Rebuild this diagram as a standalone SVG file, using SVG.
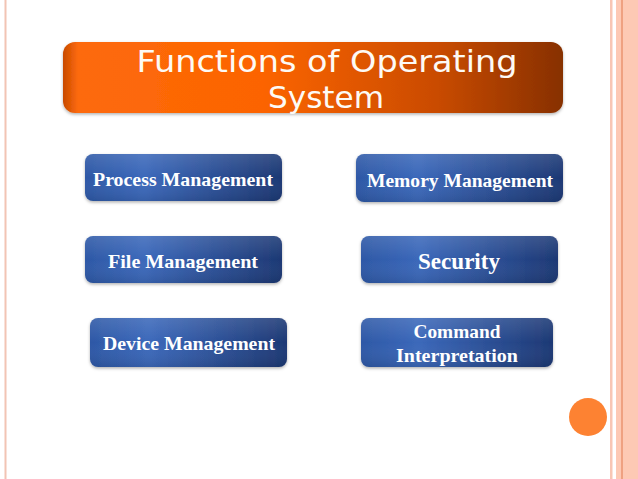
<svg xmlns="http://www.w3.org/2000/svg" width="638" height="479" viewBox="0 0 638 479">
<defs>
<linearGradient id="og" x1="0" y1="0" x2="1" y2="0">
<stop offset="0" stop-color="#c84a00"/>
<stop offset="0.03" stop-color="#fd6a0c"/>
<stop offset="0.4" stop-color="#fc6400"/>
<stop offset="0.75" stop-color="#c94b00"/>
<stop offset="1" stop-color="#873000"/>
</linearGradient>
<linearGradient id="bg" x1="0" y1="0" x2="1" y2="0">
<stop offset="0" stop-color="#2d58a6"/>
<stop offset="0.3" stop-color="#3b68ba"/>
<stop offset="1" stop-color="#1d3874"/>
</linearGradient>
<linearGradient id="hl" x1="0" y1="0" x2="0" y2="1">
<stop offset="0" stop-color="#ffffff" stop-opacity="0.12"/>
<stop offset="0.5" stop-color="#ffffff" stop-opacity="0"/>
<stop offset="1" stop-color="#000000" stop-opacity="0.1"/>
</linearGradient>
<filter id="sh" x="-10%" y="-20%" width="120%" height="150%">
<feDropShadow dx="0" dy="1.5" stdDeviation="1.5" flood-color="#000" flood-opacity="0.3"/>
</filter>
</defs>
<style>
.btn{fill:url(#bg);filter:url(#sh)}
.gl{fill:url(#hl)}
.lbl{font-family:"Liberation Serif","DejaVu Serif",serif;font-weight:bold;fill:#ffffff;text-anchor:middle;font-size:19px}
.ttl{font-family:"DejaVu Sans","Noto Sans",sans-serif;fill:#fdfaf5;text-anchor:middle;font-size:30px}
</style>
<rect width="638" height="479" fill="#ffffff"/>
<rect x="4.5" y="0" width="2" height="479" fill="#f2c4b4"/>
<rect x="610" y="0" width="2.5" height="479" fill="#f8c6b4"/>
<rect x="616" y="0" width="22" height="479" fill="#fdc9b4"/>
<rect x="621.3" y="0" width="1.4" height="479" fill="#e8906c"/>
<circle cx="588" cy="417" r="19" fill="#fd8232"/>

<g id="title">
<rect x="63" y="42" width="500" height="71" rx="12" fill="url(#og)" filter="url(#sh)"/>
<text class="ttl" x="327" y="72" textLength="381" lengthAdjust="spacingAndGlyphs">Functions of Operating</text>
<text class="ttl" x="326" y="108" textLength="116" lengthAdjust="spacingAndGlyphs">System</text>
</g>

<g id="process">
<rect class="btn" x="85" y="154" width="197" height="47" rx="8"/>
<rect class="gl" x="85" y="154" width="197" height="47" rx="8"/>
<text class="lbl" x="183" y="186" textLength="180" lengthAdjust="spacingAndGlyphs">Process Management</text>
</g>
<g id="memory">
<rect class="btn" x="356" y="154" width="207" height="48" rx="8"/>
<rect class="gl" x="356" y="154" width="207" height="48" rx="8"/>
<text class="lbl" x="460" y="187" textLength="186" lengthAdjust="spacingAndGlyphs">Memory Management</text>
</g>
<g id="file">
<rect class="btn" x="85" y="236" width="197" height="47" rx="8"/>
<rect class="gl" x="85" y="236" width="197" height="47" rx="8"/>
<text class="lbl" x="183" y="268" textLength="150" lengthAdjust="spacingAndGlyphs">File Management</text>
</g>
<g id="security">
<rect class="btn" x="361" y="236" width="197" height="47" rx="8"/>
<rect class="gl" x="361" y="236" width="197" height="47" rx="8"/>
<text class="lbl" x="459" y="269" style="font-size:23px" textLength="82" lengthAdjust="spacingAndGlyphs">Security</text>
</g>
<g id="device">
<rect class="btn" x="90" y="318" width="197" height="49" rx="8"/>
<rect class="gl" x="90" y="318" width="197" height="49" rx="8"/>
<text class="lbl" x="189" y="350" textLength="172" lengthAdjust="spacingAndGlyphs">Device Management</text>
</g>
<g id="command">
<rect class="btn" x="361" y="318" width="192" height="49" rx="8"/>
<rect class="gl" x="361" y="318" width="192" height="49" rx="8"/>
<text class="lbl" x="457" y="338" textLength="87" lengthAdjust="spacingAndGlyphs">Command</text>
<text class="lbl" x="457" y="362" textLength="122" lengthAdjust="spacingAndGlyphs">Interpretation</text>
</g>
<g id="connectors"/>
</svg>
